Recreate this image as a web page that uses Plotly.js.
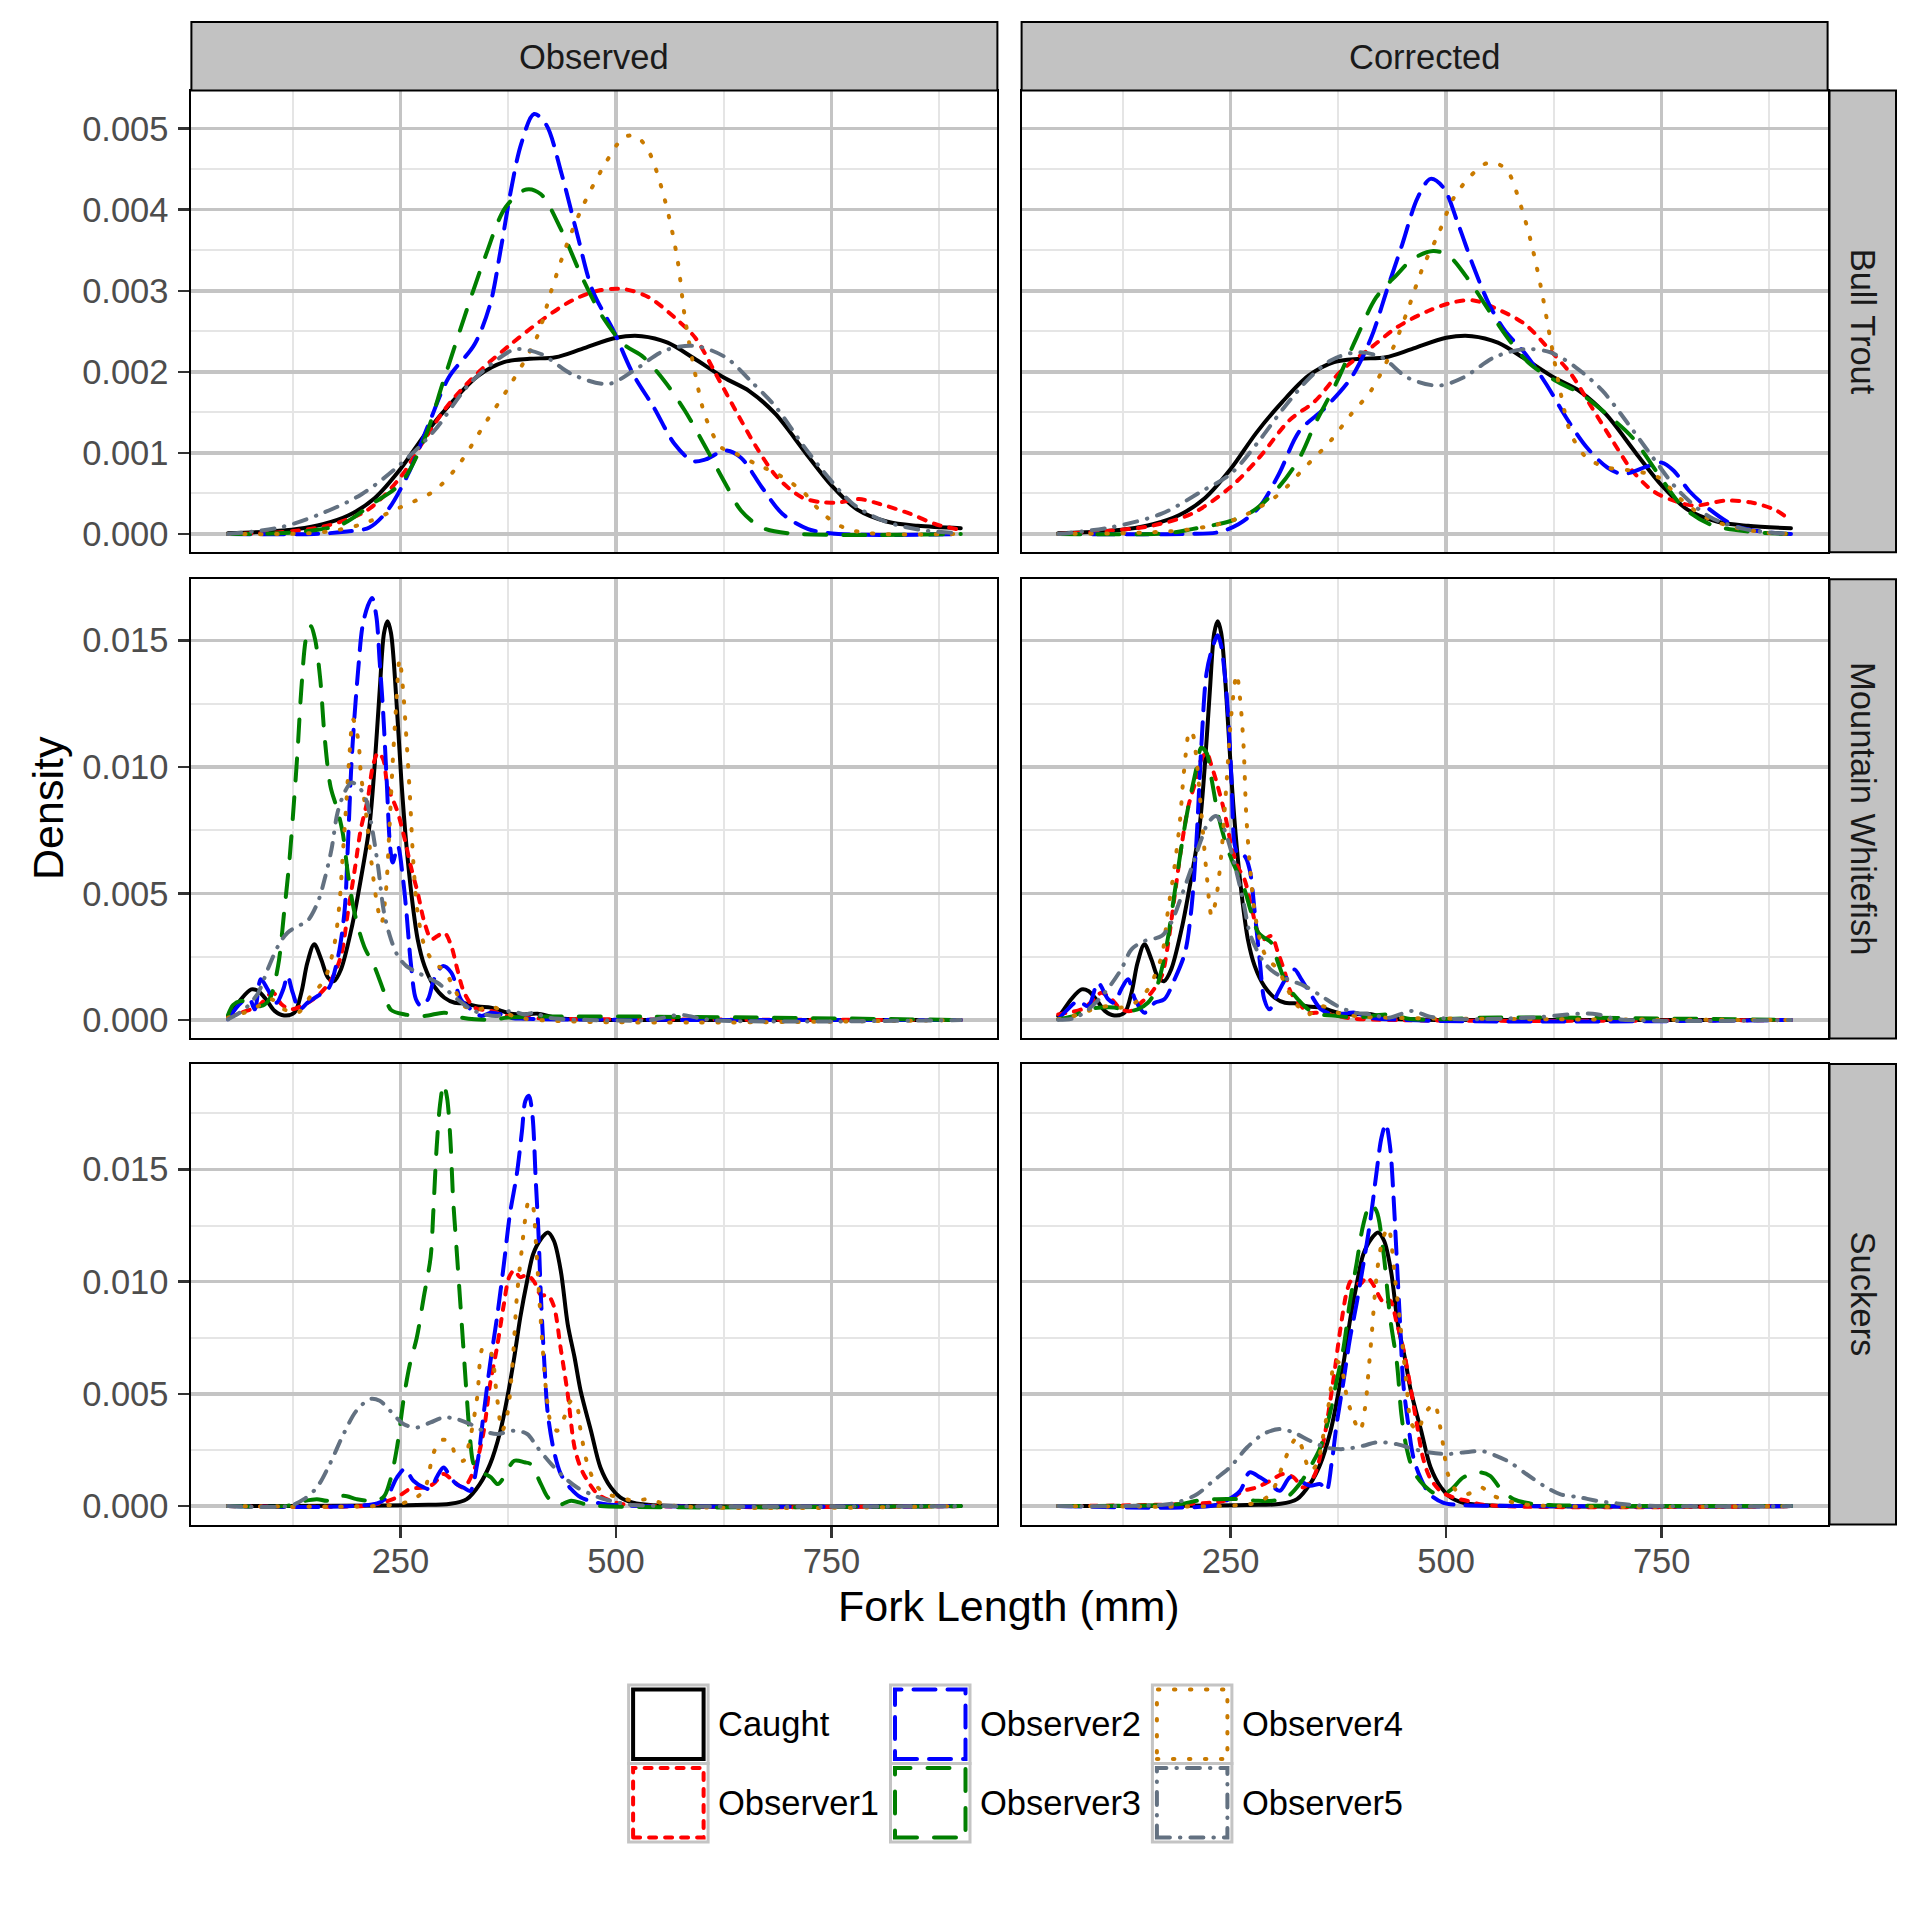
<!DOCTYPE html>
<html>
<head>
<meta charset="utf-8">
<script src="https://cdn.plot.ly/plotly-3.0.1.min.js"></script>
<style>
html,body{margin:0;padding:0;background:#fff;}
#chart{width:1920px;height:1920px;}
#chart .scatterlayer path.js-line{stroke-linecap:round;stroke-linejoin:round;}
#chart .shapelayer path{stroke-linecap:round;}
</style>
</head>
<body>
<div id="chart"></div>
<script>
// ---------------- DATA ----------------
const COLUMNS = ['Observed', 'Corrected'];
const SPECIES = ['Bull Trout', 'Mountain Whitefish', 'Suckers'];
const SERIES = ['Caught', 'Observer1', 'Observer2', 'Observer3', 'Observer4', 'Observer5'];
const X_AXIS_TITLE = 'Fork Length (mm)';
const Y_AXIS_TITLE = 'Density';
const X_TICKS = [250, 500, 750];
const X_TICKTEXT = ['250', '500', '750'];
const Y_TICKS_BT = [0, 0.001, 0.002, 0.003, 0.004, 0.005];
const Y_TICKTEXT_BT = ['0.000', '0.001', '0.002', '0.003', '0.004', '0.005'];
const Y_TICKS_MW = [0, 0.005, 0.010, 0.015];
const Y_TICKTEXT_MW = ['0.000', '0.005', '0.010', '0.015'];
const Y_TICKS_SU = [0, 0.005, 0.010, 0.015];
const Y_TICKTEXT_SU = ['0.000', '0.005', '0.010', '0.015'];

// Bull Trout - Caught (same in both columns)
const bt_caught_x = [50, 100, 130, 160, 190, 220, 250, 280, 310, 340, 370, 400, 430, 460, 500, 530, 560, 590, 625, 655, 685, 720, 750, 780, 815, 850, 900];
const bt_caught_y = [0.00001, 0.00003, 0.00006, 0.00012, 0.00023, 0.00044, 0.0008, 0.00125, 0.00163, 0.00195, 0.00212, 0.00216, 0.00218, 0.00228, 0.00242, 0.00244, 0.00236, 0.00217, 0.00193, 0.00176, 0.00148, 0.001, 0.0006, 0.0003, 0.00015, 0.0001, 0.00007];
// Bull Trout - Observed
const bt_obs_o1_x = [50, 110, 164, 211, 250, 277, 306, 342, 378, 413, 449, 479, 509, 538, 568, 592, 616, 639, 663, 687, 716, 740, 760, 782, 806, 841, 871, 900];
const bt_obs_o1_y = [0, 0.00002, 0.0001, 0.00029, 0.0007, 0.00115, 0.0016, 0.00201, 0.00234, 0.00263, 0.00288, 0.003, 0.00302, 0.00292, 0.00267, 0.00242, 0.00197, 0.00152, 0.00107, 0.0007, 0.00045, 0.00039, 0.00039, 0.00043, 0.00037, 0.00025, 0.00012, 0.00005];
const bt_obs_o2_x = [50, 150, 188, 214, 235, 259, 283, 306, 336, 354, 366, 378, 390, 405, 419, 437, 455, 473, 497, 520, 544, 568, 589, 604, 627, 645, 669, 693, 723, 758, 900];
const bt_obs_o2_y = [0, 0, 0.00003, 0.00008, 0.00029, 0.00074, 0.00136, 0.00193, 0.00234, 0.00283, 0.00349, 0.00423, 0.00481, 0.00518, 0.00505, 0.00444, 0.0037, 0.003, 0.00251, 0.00197, 0.00156, 0.00111, 0.0009, 0.00092, 0.00103, 0.00094, 0.00058, 0.00025, 0.00006, 0, 0];
const bt_obs_o3_x = [50, 128, 182, 217, 250, 277, 300, 324, 348, 372, 396, 413, 437, 461, 485, 509, 532, 556, 580, 604, 627, 645, 669, 699, 900];
const bt_obs_o3_y = [0, 0.00002, 0.00012, 0.00037, 0.00062, 0.00115, 0.00189, 0.00267, 0.00341, 0.00403, 0.00425, 0.00419, 0.00374, 0.00316, 0.00267, 0.00234, 0.00218, 0.00189, 0.00152, 0.00107, 0.00062, 0.00029, 0.00008, 0.00001, 0];
const bt_obs_o4_x = [50, 158, 205, 250, 289, 318, 348, 378, 408, 425, 443, 461, 485, 509, 523, 538, 556, 571, 580, 592, 604, 622, 639, 663, 687, 716, 740, 764, 794, 900];
const bt_obs_o4_y = [0, 0.00002, 0.00012, 0.00033, 0.00053, 0.00086, 0.00136, 0.00185, 0.00242, 0.003, 0.00357, 0.00403, 0.00452, 0.00489, 0.00491, 0.00472, 0.00415, 0.00341, 0.00267, 0.00197, 0.00144, 0.00107, 0.00099, 0.00086, 0.00074, 0.00053, 0.00025, 0.00008, 0.00001, 0];
const bt_obs_o5_x = [50, 110, 158, 205, 250, 289, 330, 366, 384, 413, 449, 491, 520, 556, 591, 627, 656, 686, 716, 740, 775, 811, 853, 900];
const bt_obs_o5_y = [0, 0.00008, 0.00025, 0.00049, 0.00086, 0.00127, 0.00185, 0.00218, 0.00228, 0.00222, 0.00197, 0.00185, 0.00201, 0.00226, 0.00232, 0.00218, 0.00189, 0.00156, 0.00111, 0.00078, 0.00037, 0.00016, 0.00005, 0.00001];
// Bull Trout - Corrected
const bt_cor_o1_x = [50, 110, 158, 205, 250, 283, 318, 348, 378, 413, 443, 479, 509, 532, 556, 591, 621, 645, 669, 693, 716, 740, 764, 788, 823, 853, 883, 900];
const bt_cor_o1_y = [0, 0.00004, 0.0001, 0.00025, 0.00058, 0.00094, 0.0014, 0.00164, 0.00201, 0.0023, 0.00255, 0.00275, 0.00286, 0.00288, 0.00279, 0.00259, 0.00226, 0.00197, 0.00156, 0.00115, 0.00078, 0.00053, 0.00041, 0.00035, 0.00041, 0.00039, 0.00029, 0.00016];
const bt_cor_o2_x = [50, 200, 235, 259, 283, 306, 330, 360, 390, 413, 431, 449, 467, 482, 497, 514, 532, 550, 568, 592, 616, 639, 663, 687, 705, 735, 750, 764, 782, 806, 835, 865, 900];
const bt_cor_o2_y = [0, 0, 0.00002, 0.00012, 0.00033, 0.00074, 0.00127, 0.00156, 0.00193, 0.00242, 0.003, 0.00357, 0.00415, 0.00438, 0.00427, 0.00382, 0.00329, 0.00283, 0.00251, 0.00222, 0.00185, 0.00144, 0.00107, 0.00082, 0.00074, 0.00084, 0.00088, 0.00078, 0.00053, 0.0003, 0.0001, 0.00003, 0];
const bt_cor_o3_x = [50, 176, 205, 250, 277, 306, 330, 348, 372, 396, 419, 443, 461, 485, 503, 527, 550, 574, 598, 627, 656, 686, 716, 746, 775, 806, 850, 900];
const bt_cor_o3_y = [0, 0.00001, 0.00006, 0.00016, 0.00029, 0.00058, 0.00094, 0.00136, 0.00185, 0.00242, 0.00292, 0.0032, 0.00339, 0.00349, 0.00343, 0.00312, 0.00275, 0.00238, 0.00209, 0.00189, 0.00173, 0.00148, 0.00119, 0.00074, 0.00033, 0.00012, 0.00003, 0];
const bt_cor_o4_x = [50, 158, 205, 250, 277, 306, 336, 366, 390, 413, 437, 455, 473, 491, 509, 527, 544, 556, 571, 586, 598, 610, 622, 634, 645, 663, 687, 716, 746, 770, 800, 835, 877, 900];
const bt_cor_o4_y = [0, 0.00002, 0.00006, 0.00016, 0.00029, 0.00049, 0.00082, 0.00115, 0.00148, 0.00177, 0.00226, 0.00275, 0.00329, 0.0037, 0.00415, 0.0044, 0.00456, 0.00458, 0.00448, 0.00407, 0.00362, 0.00304, 0.00234, 0.00168, 0.00123, 0.00094, 0.00082, 0.00078, 0.0007, 0.00045, 0.00021, 0.00008, 0.00001, 0];
const bt_cor_o5_x = [50, 110, 170, 217, 250, 283, 312, 342, 366, 396, 425, 455, 491, 520, 556, 591, 621, 651, 681, 711, 740, 770, 806, 847, 900];
const bt_cor_o5_y = [0, 0.00008, 0.00025, 0.00053, 0.00074, 0.00115, 0.00156, 0.00193, 0.00214, 0.00224, 0.00218, 0.00193, 0.00183, 0.00193, 0.00218, 0.00228, 0.00224, 0.00205, 0.00177, 0.00136, 0.00094, 0.00053, 0.00021, 0.00006, 0];

// Mountain Whitefish - Caught
const mw_caught_x = [50, 54, 65, 77, 85, 94, 104, 115, 127, 135, 142, 150, 158, 166, 173, 181, 193, 204, 214, 220, 226, 231, 235, 239, 245, 251, 257, 263, 270, 278, 289, 301, 313, 324, 340, 355, 367, 378, 394, 409, 425, 440, 471, 500, 900];
const mw_caught_y = [0.00016, 0.00029, 0.00082, 0.00121, 0.00115, 0.00082, 0.00036, 0.00018, 0.00029, 0.00108, 0.00226, 0.00299, 0.0024, 0.00167, 0.00154, 0.002, 0.00358, 0.00556, 0.00766, 0.01003, 0.01306, 0.0153, 0.01576, 0.0153, 0.0128, 0.0095, 0.00687, 0.0049, 0.00319, 0.00213, 0.00134, 0.00088, 0.00068, 0.00066, 0.00053, 0.00049, 0.00036, 0.00025, 0.00022, 0.00025, 0.00013, 0.00005, 0.00002, 0, 0];
// Mountain Whitefish - Observed
const mw_obs_o1_x = [50, 65, 85, 102, 112, 123, 139, 154, 170, 181, 189, 197, 204, 212, 218, 224, 230, 235, 241, 247, 255, 262, 270, 278, 286, 293, 301, 309, 316, 324, 336, 355, 374, 394, 433, 900];
const mw_obs_o1_y = [0.00009, 0.00029, 0.00055, 0.00108, 0.00062, 0.00042, 0.00062, 0.00095, 0.00161, 0.00253, 0.00424, 0.00595, 0.00753, 0.00872, 0.01003, 0.01056, 0.0103, 0.00924, 0.00872, 0.00819, 0.00714, 0.00608, 0.00503, 0.00384, 0.00319, 0.00332, 0.00345, 0.00292, 0.002, 0.00108, 0.00049, 0.00036, 0.00016, 0.00009, 0.00005, 0];
const mw_obs_o2_x = [50, 65, 75, 81, 88, 96, 106, 114, 119, 125, 133, 142, 154, 166, 177, 185, 189, 193, 197, 201, 206, 212, 217, 222, 226, 230, 234, 238, 241, 247, 253, 257, 262, 268, 274, 282, 289, 299, 309, 320, 332, 344, 355, 367, 378, 394, 900];
const mw_obs_o2_y = [0.00003, 0.00068, 0.00082, 0.00042, 0.00161, 0.00121, 0.00068, 0.00121, 0.00174, 0.00108, 0.00042, 0.00068, 0.00095, 0.00121, 0.0024, 0.00424, 0.00687, 0.01003, 0.01214, 0.01385, 0.01556, 0.01635, 0.01668, 0.01596, 0.01412, 0.01214, 0.0095, 0.00687, 0.00622, 0.00687, 0.00556, 0.00424, 0.00226, 0.00082, 0.00055, 0.00082, 0.00161, 0.00213, 0.00187, 0.00082, 0.00042, 0.00016, 0.00029, 0.00022, 0.00009, 0.00005, 0];
const mw_obs_o3_x = [50, 56, 65, 77, 88, 98, 108, 115, 121, 127, 131, 135, 141, 146, 151, 157, 162, 169, 177, 183, 189, 197, 208, 220, 231, 239, 255, 278, 301, 316, 336, 360, 375, 900];
const mw_obs_o3_y = [0.0002, 0.0006, 0.00075, 0.00068, 0.00055, 0.00082, 0.00213, 0.00424, 0.00622, 0.00885, 0.01082, 0.01306, 0.01517, 0.01556, 0.01504, 0.01346, 0.0112, 0.0092, 0.0083, 0.0074, 0.0058, 0.0042, 0.0029, 0.0021, 0.0011, 0.0004, 0.00022, 0.00016, 0.00029, 0.00013, 0.00003, 0.00002, 0.0001, 0];
const mw_obs_o4_x = [50, 69, 85, 100, 115, 131, 146, 162, 173, 179, 183, 187, 191, 195, 201, 204, 210, 216, 222, 228, 233, 237, 241, 245, 249, 253, 257, 261, 265, 270, 278, 289, 301, 313, 324, 340, 355, 371, 394, 900];
const mw_obs_o4_y = [0.00009, 0.00029, 0.00055, 0.00082, 0.00042, 0.00029, 0.00095, 0.00161, 0.00292, 0.0045, 0.00648, 0.00845, 0.01056, 0.01188, 0.01109, 0.00977, 0.00819, 0.00635, 0.00477, 0.00384, 0.00503, 0.0074, 0.01017, 0.0124, 0.01425, 0.01306, 0.01109, 0.00885, 0.00622, 0.00424, 0.00292, 0.00226, 0.00194, 0.00121, 0.00055, 0.00042, 0.00055, 0.00029, 0.00005, 0];
const mw_obs_o5_x = [50, 69, 85, 96, 108, 119, 131, 142, 154, 162, 170, 177, 185, 193, 201, 210, 216, 224, 231, 239, 247, 257, 270, 282, 293, 305, 316, 332, 348, 363, 378, 394, 406, 417, 433, 470, 540, 575, 610, 900];
const mw_obs_o5_y = [0.00003, 0.00042, 0.00108, 0.002, 0.00292, 0.00345, 0.00371, 0.00391, 0.00464, 0.00556, 0.00674, 0.00819, 0.00898, 0.00938, 0.00924, 0.00872, 0.0078, 0.00608, 0.00424, 0.00319, 0.00253, 0.00213, 0.00187, 0.00167, 0.00147, 0.00115, 0.00082, 0.00042, 0.00022, 0.00016, 0.00036, 0.00022, 0.00029, 0.00013, 0.00005, 0, 0, 0.0002, 0, 0];
// Mountain Whitefish - Corrected
const mw_cor_o1_x = [50, 61, 77, 92, 100, 112, 123, 135, 146, 158, 170, 177, 185, 193, 201, 210, 216, 222, 228, 235, 243, 251, 258, 266, 274, 282, 289, 297, 305, 313, 320, 332, 340, 355, 374, 394, 900];
const mw_cor_o1_y = [0.00022, 0.00029, 0.00042, 0.00082, 0.00108, 0.00082, 0.00042, 0.00036, 0.00068, 0.00108, 0.00174, 0.00292, 0.0049, 0.00687, 0.00845, 0.0095, 0.0103, 0.01056, 0.01003, 0.00924, 0.00819, 0.00687, 0.00608, 0.00556, 0.0045, 0.00345, 0.00319, 0.00332, 0.00266, 0.00187, 0.00108, 0.00055, 0.00029, 0.00029, 0.00016, 0.00005, 0];
const mw_cor_o2_x = [50, 61, 73, 85, 96, 108, 115, 123, 131, 139, 150, 162, 173, 185, 197, 204, 210, 216, 222, 228, 235, 239, 243, 247, 251, 255, 260, 266, 272, 278, 284, 289, 295, 305, 316, 324, 332, 344, 355, 371, 394, 413, 900];
const mw_cor_o2_y = [0.00003, 0.00042, 0.00075, 0.00055, 0.00147, 0.00082, 0.00068, 0.00121, 0.00161, 0.00082, 0.00029, 0.00068, 0.00082, 0.00161, 0.00266, 0.00424, 0.00687, 0.01082, 0.0137, 0.0146, 0.0152, 0.0148, 0.0137, 0.0121, 0.0095, 0.00687, 0.00648, 0.00648, 0.00595, 0.00424, 0.00226, 0.00082, 0.00042, 0.00108, 0.00174, 0.002, 0.00161, 0.00095, 0.00042, 0.00022, 0.00029, 0.00009, 0];
const mw_cor_o3_x = [50, 65, 85, 100, 115, 131, 142, 154, 162, 170, 177, 185, 193, 201, 210, 216, 222, 228, 235, 243, 251, 258, 266, 274, 282, 289, 297, 305, 316, 328, 340, 355, 374, 394, 433, 460, 560, 900];
const mw_cor_o3_y = [0.00003, 0.00013, 0.00042, 0.00049, 0.00049, 0.00036, 0.00042, 0.00068, 0.00108, 0.002, 0.00319, 0.00503, 0.00687, 0.00845, 0.0099, 0.01076, 0.01056, 0.0095, 0.00819, 0.00714, 0.00635, 0.00582, 0.00516, 0.00424, 0.00345, 0.00325, 0.00306, 0.00226, 0.00134, 0.00082, 0.00042, 0.00022, 0.00016, 0.00009, 0.00022, 0.00003, 0.0001, 0];
const mw_cor_o4_x = [50, 65, 85, 108, 123, 139, 154, 170, 177, 185, 191, 195, 199, 202, 206, 210, 216, 222, 228, 233, 239, 245, 251, 257, 261, 265, 268, 272, 278, 286, 293, 305, 316, 328, 340, 355, 374, 394, 433, 900];
const mw_cor_o4_y = [0.00003, 0.00013, 0.00036, 0.00055, 0.00049, 0.00068, 0.00121, 0.00253, 0.00424, 0.00608, 0.0078, 0.0095, 0.01082, 0.01142, 0.01129, 0.01043, 0.00819, 0.00582, 0.00411, 0.00477, 0.00648, 0.00924, 0.01214, 0.01366, 0.01267, 0.01082, 0.00819, 0.00622, 0.00424, 0.00292, 0.0024, 0.002, 0.00121, 0.00055, 0.00022, 0.00055, 0.00029, 0.00016, 0.00009, 0];
const mw_cor_o5_x = [50, 69, 85, 104, 123, 135, 150, 170, 181, 193, 204, 216, 224, 233, 241, 249, 257, 265, 272, 280, 289, 301, 316, 336, 355, 374, 394, 413, 433, 461, 481, 520, 600, 670, 700, 900];
const mw_cor_o5_y = [0.00001, 0.00008, 0.00042, 0.00108, 0.002, 0.00279, 0.00312, 0.00332, 0.00384, 0.0049, 0.00595, 0.00714, 0.0078, 0.00806, 0.00766, 0.00687, 0.00582, 0.00464, 0.00345, 0.00279, 0.00226, 0.00187, 0.00161, 0.00134, 0.00095, 0.00055, 0.00029, 0.00022, 0.00009, 0.00036, 0.00013, 0.00003, 0.0001, 0.00025, 0.00003, 0];

// Suckers - Caught
const su_caught_x = [50, 269, 308, 327, 342, 354, 366, 374, 382, 389, 397, 404, 413, 421, 428, 436, 444, 452, 459, 471, 482, 494, 505, 520, 540, 900];
const su_caught_y = [0, 0.00005, 0.0001, 0.00031, 0.00098, 0.00187, 0.00336, 0.00484, 0.00662, 0.0084, 0.01004, 0.01123, 0.0119, 0.01219, 0.01182, 0.01048, 0.00811, 0.00662, 0.00514, 0.00336, 0.00172, 0.00083, 0.00039, 0.00015, 0.00005, 0];
// Suckers - Observed
const su_obs_o1_x = [50, 211, 230, 246, 261, 277, 288, 300, 311, 323, 335, 346, 354, 362, 370, 376, 382, 389, 397, 405, 413, 421, 428, 436, 444, 452, 459, 467, 479, 494, 509, 900];
const su_obs_o1_y = [0, 0.00002, 0.00016, 0.00039, 0.00076, 0.00083, 0.00098, 0.00143, 0.00113, 0.00083, 0.00157, 0.00321, 0.00544, 0.00707, 0.009, 0.01019, 0.0105, 0.0102, 0.0103, 0.0100, 0.0094, 0.0094, 0.0089, 0.0070, 0.0050, 0.00261, 0.00172, 0.00113, 0.00053, 0.00024, 0.00008, 0];
const su_obs_o2_x = [50, 223, 234, 246, 255, 265, 277, 285, 292, 300, 308, 315, 323, 331, 339, 346, 354, 362, 370, 377, 385, 391, 395, 399, 403, 407, 410, 413, 417, 421, 428, 436, 448, 459, 475, 493, 900];
const su_obs_o2_y = [0, 0.00012, 0.00039, 0.00128, 0.00165, 0.00113, 0.00083, 0.00076, 0.00128, 0.00172, 0.00128, 0.00098, 0.00083, 0.00068, 0.00187, 0.00395, 0.00633, 0.0084, 0.01078, 0.01301, 0.01479, 0.01672, 0.01806, 0.01828, 0.01746, 0.01449, 0.01227, 0.0093, 0.00633, 0.0041, 0.00247, 0.00143, 0.00076, 0.00039, 0.00018, 0.00006, 0];
const su_obs_o3_x = [50, 120, 130, 153, 165, 184, 199, 215, 230, 238, 246, 254, 261, 269, 277, 285, 288, 292, 296, 300, 304, 308, 311, 315, 319, 323, 327, 331, 335, 342, 355, 363, 370, 382, 394, 401, 413, 421, 432, 448, 463, 482, 900];
const su_obs_o3_y = [0, 0.00002, 0.00016, 0.00031, 0.00024, 0.00046, 0.00031, 0.00024, 0.00039, 0.00113, 0.00261, 0.00484, 0.00633, 0.00751, 0.0093, 0.01108, 0.01301, 0.01598, 0.01791, 0.0188, 0.01821, 0.01628, 0.01375, 0.01152, 0.0093, 0.00707, 0.00484, 0.00291, 0.00187, 0.00157, 0.00128, 0.00098, 0.00128, 0.00202, 0.00195, 0.00187, 0.00098, 0.00039, 0.00004, 0.00024, 0.0001, 0, 0];
const su_obs_o4_x = [50, 240, 261, 277, 288, 296, 307, 315, 323, 331, 339, 346, 354, 362, 368, 374, 380, 385, 391, 395, 399, 403, 407, 411, 415, 419, 425, 432, 440, 448, 454, 459, 467, 479, 490, 505, 520, 540, 560, 900];
const su_obs_o4_y = [0, 0.00005, 0.00024, 0.00068, 0.00232, 0.00291, 0.00291, 0.00217, 0.00202, 0.00306, 0.00484, 0.00707, 0.00692, 0.00484, 0.00336, 0.0041, 0.00633, 0.0093, 0.01152, 0.01286, 0.0136, 0.01345, 0.01182, 0.0093, 0.00707, 0.00514, 0.00365, 0.00336, 0.00395, 0.00469, 0.00454, 0.00336, 0.00187, 0.00083, 0.00053, 0.00039, 0.00024, 0.00031, 0.00005, 0];
const su_obs_o5_x = [50, 122, 138, 153, 168, 184, 199, 215, 226, 238, 254, 269, 285, 300, 315, 331, 346, 362, 382, 397, 409, 425, 440, 455, 471, 486, 502, 520, 900];
const su_obs_o5_y = [0, 0.00002, 0.00031, 0.00083, 0.00187, 0.00321, 0.00425, 0.00477, 0.00469, 0.00425, 0.00365, 0.0035, 0.00373, 0.00395, 0.00388, 0.00365, 0.00336, 0.00321, 0.00336, 0.00321, 0.00261, 0.00187, 0.00128, 0.00083, 0.00053, 0.00031, 0.00016, 0.00005, 0];
// Suckers - Corrected
const su_cor_o1_x = [50, 230, 249, 265, 280, 296, 311, 323, 334, 346, 357, 369, 377, 385, 390, 400, 408, 415, 423, 429, 435, 443, 450, 458, 466, 473, 481, 493, 508, 524, 543, 900];
const su_cor_o1_y = [0, 0.00016, 0.00031, 0.00068, 0.00083, 0.00113, 0.00143, 0.00128, 0.00083, 0.00128, 0.00276, 0.00558, 0.00781, 0.00959, 0.01004, 0.00989, 0.01019, 0.00989, 0.0093, 0.009, 0.00915, 0.00811, 0.00707, 0.00544, 0.00365, 0.00217, 0.00128, 0.00068, 0.00039, 0.00024, 0.00006, 0];
const su_cor_o2_x = [50, 230, 245, 261, 272, 284, 296, 307, 319, 330, 342, 354, 361, 367, 373, 381, 388, 396, 404, 412, 419, 425, 430, 435, 439, 443, 447, 450, 456, 462, 470, 481, 497, 512, 900];
const su_cor_o2_y = [0, 0.00002, 0.00024, 0.00068, 0.0015, 0.00128, 0.00098, 0.00068, 0.00128, 0.00113, 0.00091, 0.00098, 0.00068, 0.00187, 0.00365, 0.00558, 0.00737, 0.009, 0.01078, 0.01271, 0.01479, 0.01642, 0.01702, 0.01598, 0.01375, 0.01078, 0.00781, 0.00558, 0.00365, 0.00217, 0.00128, 0.00053, 0.00014, 0.00006, 0];
const su_cor_o3_x = [50, 191, 211, 234, 257, 280, 299, 315, 330, 342, 354, 365, 373, 381, 388, 396, 404, 412, 419, 427, 435, 443, 448, 454, 462, 473, 489, 504, 520, 539, 551, 562, 578, 597, 620, 900];
const su_cor_o3_y = [0, 0.00009, 0.00024, 0.00031, 0.00031, 0.00024, 0.00024, 0.00039, 0.00098, 0.00172, 0.00261, 0.0041, 0.00558, 0.00707, 0.009, 0.01078, 0.01256, 0.01345, 0.01316, 0.01138, 0.0084, 0.00633, 0.0041, 0.00261, 0.00157, 0.00098, 0.00053, 0.00068, 0.00128, 0.0015, 0.00135, 0.00083, 0.00031, 0.00012, 0.00005, 0];
const su_cor_o4_x = [50, 249, 280, 296, 311, 319, 327, 334, 342, 350, 357, 365, 371, 377, 385, 392, 400, 406, 410, 414, 417, 421, 427, 433, 437, 441, 446, 450, 454, 460, 468, 473, 481, 487, 491, 497, 502, 512, 524, 541, 551, 570, 597, 900];
const su_cor_o4_y = [0, 0.00002, 0.00016, 0.00053, 0.00187, 0.00261, 0.00306, 0.00247, 0.00157, 0.00187, 0.00306, 0.00484, 0.00647, 0.00633, 0.00484, 0.00395, 0.00336, 0.0044, 0.00603, 0.00781, 0.0093, 0.01078, 0.01197, 0.01241, 0.01152, 0.01004, 0.0084, 0.00692, 0.00544, 0.00365, 0.00336, 0.00395, 0.0044, 0.00454, 0.00395, 0.00261, 0.00143, 0.00068, 0.00053, 0.00083, 0.00053, 0.00024, 0.00005, 0];
const su_cor_o5_x = [50, 172, 191, 211, 230, 249, 269, 288, 307, 323, 342, 361, 381, 404, 419, 443, 462, 481, 502, 520, 543, 558, 574, 593, 613, 632, 655, 674, 698, 729, 900];
const su_cor_o5_y = [0, 0.00006, 0.0002, 0.00053, 0.00113, 0.00172, 0.00261, 0.00321, 0.00343, 0.00328, 0.00291, 0.00261, 0.00254, 0.00269, 0.00284, 0.00276, 0.00254, 0.00239, 0.00232, 0.00239, 0.00244, 0.00224, 0.00195, 0.00143, 0.00091, 0.00053, 0.00039, 0.00024, 0.00012, 0.00002, 0];

// ---------------- STYLE / LAYOUT ----------------
const FONT = 'Liberation Sans, Arial, Helvetica, sans-serif';
const W = 1920;
const LINE_W = 4;
// dash patterns are for round line caps (each dash grows by the line width)
const STYLES = {
  Caught:    {color: '#000000', dash: 'solid'},
  Observer1: {color: '#FF0000', dash: '7px,9px'},
  Observer2: {color: '#0000FF', dash: '22px,12px'},
  Observer3: {color: '#007F00', dash: '22px,17px'},
  Observer4: {color: '#C97A00', dash: '1.5px,14.5px'},
  Observer5: {color: '#637181', dash: '13px,10px,0.5px,10px'}
};
const COL_PX = [[191.4, 997.4], [1021.6, 1827.6]];
const ROW_PX = [[90.6, 552.2], [579.2, 1038.4], [1064.1, 1524.5]];
const X_RANGE = [7.5, 942.5];
const Y_RANGES = [[-0.000225, 0.005469], [-0.000727, 0.017418], [-0.00082, 0.019691]];
const Y_TICKS = [Y_TICKS_BT, Y_TICKS_MW, Y_TICKS_SU];
const Y_TICKTEXT = [Y_TICKTEXT_BT, Y_TICKTEXT_MW, Y_TICKTEXT_SU];
const Y_MINOR = [[0.0005, 0.0015, 0.0025, 0.0035, 0.0045], [0.0025, 0.0075, 0.0125], [0.0025, 0.0075, 0.0125, 0.0175]];
const X_MINOR = [125, 375, 625, 875];

const PANEL_DATA = [
  [ // Bull Trout
    [[bt_caught_x, bt_caught_y], [bt_obs_o1_x, bt_obs_o1_y], [bt_obs_o2_x, bt_obs_o2_y], [bt_obs_o3_x, bt_obs_o3_y], [bt_obs_o4_x, bt_obs_o4_y], [bt_obs_o5_x, bt_obs_o5_y]],
    [[bt_caught_x, bt_caught_y], [bt_cor_o1_x, bt_cor_o1_y], [bt_cor_o2_x, bt_cor_o2_y], [bt_cor_o3_x, bt_cor_o3_y], [bt_cor_o4_x, bt_cor_o4_y], [bt_cor_o5_x, bt_cor_o5_y]]
  ],
  [ // Mountain Whitefish
    [[mw_caught_x, mw_caught_y], [mw_obs_o1_x, mw_obs_o1_y], [mw_obs_o2_x, mw_obs_o2_y], [mw_obs_o3_x, mw_obs_o3_y], [mw_obs_o4_x, mw_obs_o4_y], [mw_obs_o5_x, mw_obs_o5_y]],
    [[mw_caught_x, mw_caught_y], [mw_cor_o1_x, mw_cor_o1_y], [mw_cor_o2_x, mw_cor_o2_y], [mw_cor_o3_x, mw_cor_o3_y], [mw_cor_o4_x, mw_cor_o4_y], [mw_cor_o5_x, mw_cor_o5_y]]
  ],
  [ // Suckers
    [[su_caught_x, su_caught_y], [su_obs_o1_x, su_obs_o1_y], [su_obs_o2_x, su_obs_o2_y], [su_obs_o3_x, su_obs_o3_y], [su_obs_o4_x, su_obs_o4_y], [su_obs_o5_x, su_obs_o5_y]],
    [[su_caught_x, su_caught_y], [su_cor_o1_x, su_cor_o1_y], [su_cor_o2_x, su_cor_o2_y], [su_cor_o3_x, su_cor_o3_y], [su_cor_o4_x, su_cor_o4_y], [su_cor_o5_x, su_cor_o5_y]]
  ]
];

const px2x = p => p / W;
const px2y = p => 1 - p / W;

const traces = [];
const layout = {
  width: 1920, height: 1920,
  margin: {l: 0, r: 0, t: 0, b: 0},
  paper_bgcolor: '#FFFFFF', plot_bgcolor: '#FFFFFF',
  showlegend: false,
  font: {family: FONT, color: '#000000'},
  shapes: [], annotations: []
};

for (let r = 0; r < 3; r++) {
  for (let c = 0; c < 2; c++) {
    const k = r * 2 + c;
    const sfx = k === 0 ? '' : String(k + 1);
    const xa = 'x' + sfx, ya = 'y' + sfx;
    layout['xaxis' + sfx] = {
      domain: [px2x(COL_PX[c][0]), px2x(COL_PX[c][1])],
      range: X_RANGE, anchor: ya,
      tickmode: 'array', tickvals: X_TICKS, ticktext: X_TICKTEXT,
      showticklabels: r === 2, ticks: r === 2 ? 'outside' : '',
      ticklen: 11, tickwidth: 2.5, tickcolor: '#333333',
      ticklabelstandoff: -6,
      tickfont: {family: FONT, size: 34.5, color: '#4D4D4D'},
      showgrid: true, gridcolor: '#C4C4C4', gridwidth: 3.5,
      minor: {tickmode: 'array', tickvals: X_MINOR, showgrid: true, gridcolor: '#E5E5E5', gridwidth: 2, ticks: ''},
      showline: true, mirror: true, linecolor: '#000000', linewidth: 2,
      zeroline: false, fixedrange: true
    };
    layout['yaxis' + sfx] = {
      domain: [px2y(ROW_PX[r][1]), px2y(ROW_PX[r][0])],
      range: Y_RANGES[r], anchor: xa,
      tickmode: 'array', tickvals: Y_TICKS[r], ticktext: Y_TICKTEXT[r],
      showticklabels: c === 0, ticks: c === 0 ? 'outside' : '',
      ticklen: 11, tickwidth: 2.5, tickcolor: '#333333',
      ticklabelstandoff: 3,
      tickfont: {family: FONT, size: 34.5, color: '#4D4D4D'},
      showgrid: true, gridcolor: '#C4C4C4', gridwidth: 3.5,
      minor: {tickmode: 'array', tickvals: Y_MINOR[r], showgrid: true, gridcolor: '#E5E5E5', gridwidth: 2, ticks: ''},
      showline: true, mirror: true, linecolor: '#000000', linewidth: 2,
      zeroline: false, fixedrange: true
    };
    PANEL_DATA[r][c].forEach((xy, i) => {
      const name = SERIES[i];
      traces.push({
        type: 'scatter', mode: 'lines', name: name,
        x: xy[0], y: xy[1], xaxis: xa, yaxis: ya,
        line: {color: STYLES[name].color, dash: STYLES[name].dash, width: LINE_W, shape: 'spline', smoothing: 0.9},
        hoverinfo: 'skip', showlegend: false
      });
    });
  }
}

// Facet strips (top)
const STRIP_TOP = [22, 90.6];
COLUMNS.forEach((lab, c) => {
  layout.shapes.push({type: 'rect', xref: 'paper', yref: 'paper',
    x0: px2x(COL_PX[c][0]), x1: px2x(COL_PX[c][1]), y0: px2y(STRIP_TOP[1]), y1: px2y(STRIP_TOP[0]),
    fillcolor: '#C2C2C2', line: {color: '#000000', width: 2}, layer: 'above'});
  layout.annotations.push({xref: 'paper', yref: 'paper', showarrow: false,
    x: px2x((COL_PX[c][0] + COL_PX[c][1]) / 2), y: px2y((STRIP_TOP[0] + STRIP_TOP[1]) / 2 + 1),
    xanchor: 'center', yanchor: 'middle', text: lab,
    font: {family: FONT, size: 34.5, color: '#1A1A1A'}});
});
// Facet strips (right)
const STRIP_RIGHT = [1829.5, 1896];
SPECIES.forEach((lab, r) => {
  layout.shapes.push({type: 'rect', xref: 'paper', yref: 'paper',
    x0: px2x(STRIP_RIGHT[0]), x1: px2x(STRIP_RIGHT[1]), y0: px2y(ROW_PX[r][1]), y1: px2y(ROW_PX[r][0]),
    fillcolor: '#C2C2C2', line: {color: '#000000', width: 2}, layer: 'above'});
  layout.annotations.push({xref: 'paper', yref: 'paper', showarrow: false,
    x: px2x((STRIP_RIGHT[0] + STRIP_RIGHT[1]) / 2), y: px2y((ROW_PX[r][0] + ROW_PX[r][1]) / 2),
    xanchor: 'center', yanchor: 'middle', text: lab, textangle: 90,
    font: {family: FONT, size: 34.5, color: '#1A1A1A'}});
});

// Axis titles
layout.annotations.push({xref: 'paper', yref: 'paper', showarrow: false,
  x: px2x(1009), y: px2y(1606), xanchor: 'center', yanchor: 'middle',
  text: X_AXIS_TITLE, font: {family: FONT, size: 43, color: '#000000'}});
layout.annotations.push({xref: 'paper', yref: 'paper', showarrow: false,
  x: px2x(48), y: px2y(808), xanchor: 'center', yanchor: 'middle', textangle: -90,
  text: Y_AXIS_TITLE, font: {family: FONT, size: 43, color: '#000000'}});

// Legend (drawn as keys: 3 columns x 2 rows, filled by column)
const LEG_COL_X = [628.6, 890.5, 1152.4];
const LEG_ROW_Y = [1685, 1763.5];
const KEY_W = 79.5, KEY_H = 78.5;
SERIES.forEach((name, i) => {
  const c = Math.floor(i / 2), r = i % 2;
  const x0 = LEG_COL_X[c], y0 = LEG_ROW_Y[r];
  layout.shapes.push({type: 'rect', xref: 'paper', yref: 'paper',
    x0: px2x(x0), x1: px2x(x0 + KEY_W), y0: px2y(y0 + KEY_H), y1: px2y(y0),
    fillcolor: '#FFFFFF', line: {color: '#C4C4C4', width: 3}, layer: 'above'});
  layout.shapes.push({type: 'rect', xref: 'paper', yref: 'paper',
    x0: px2x(x0 + 4.5), x1: px2x(x0 + KEY_W - 4.5), y0: px2y(y0 + KEY_H - 4.5), y1: px2y(y0 + 4.5),
    fillcolor: 'rgba(0,0,0,0)', line: {color: STYLES[name].color, width: LINE_W, dash: STYLES[name].dash}, layer: 'above'});
  layout.annotations.push({xref: 'paper', yref: 'paper', showarrow: false,
    x: px2x(x0 + KEY_W + 8), y: px2y(y0 + KEY_H / 2), xanchor: 'left', yanchor: 'middle',
    text: name, font: {family: FONT, size: 34.5, color: '#000000'}});
});

Plotly.newPlot('chart', traces, layout, {staticPlot: true, displayModeBar: false});
</script>
</body>
</html>
